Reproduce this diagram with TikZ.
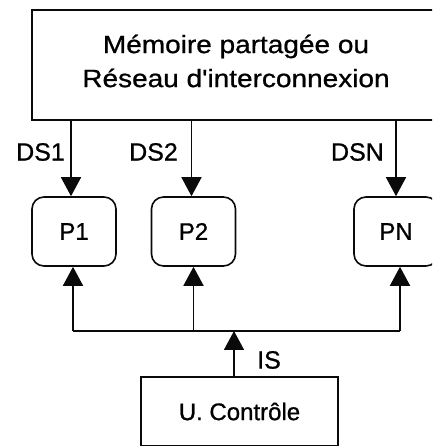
\documentclass[tikz,border=0pt]{standalone}
\usepackage{fontspec}
\setmainfont[FakeBold=0.8]{Liberation Sans}
\newfontfamily\widefont[FakeStretch=1.12,FakeBold=0.8]{Liberation Sans}
\usetikzlibrary{arrows.meta}
\definecolor{ink}{rgb}{0.04,0.04,0.04}

\begin{document}
\begin{tikzpicture}[x=1pt,y=1pt,
  box/.style={draw=ink, line width=1.6pt, inner sep=0pt},
  proc/.style={draw=ink, line width=1.6pt, rounded corners=12pt,
    minimum width=84pt, minimum height=69pt, inner sep=0pt,
    font=\fontsize{24}{28}\selectfont},
  link/.style={draw=ink, line width=1.6pt},
  arr/.style={draw=ink, fill=ink, line width=1.6pt, -{Triangle[length=19pt,width=20pt]}},
  lbl/.style={font=\fontsize{25}{30}\selectfont, inner sep=0pt}]
\useasboundingbox (0,0) rectangle (432,446);
\fill[white] (0,0) rectangle (432,446);
\clip (0,0) rectangle (432,446);

% shared memory / interconnection network
\node[box, minimum width=410pt, minimum height=110pt] (mem) at (237,381) {};
\node[lbl, font=\widefont\fontsize{25}{34}\selectfont, align=center]
  (memtxt) at (236,385) {Mémoire partagée ou\\Réseau d'interconnexion};

% processing elements
\node[proc] (p1) at (74,214.5) {P1};
\node[proc] (p2) at (193.5,214.5) {P2};
\node[proc] (pn) at (396,214.5) {PN};

% control unit
\node[box, minimum width=197pt, minimum height=69pt,
  font=\fontsize{24}{28}\selectfont] (uc) at (239.5,34.5) {U. Contrôle};

% data streams
\draw[arr] ([xshift=-3pt]p1.north |- mem.south) -- ([xshift=-3pt]p1.north);
\draw[arr] ([xshift=-2pt]p2.north |- mem.south) -- ([xshift=-2pt]p2.north);
\draw[arr] (pn.north |- mem.south) -- (pn.north);
\node[lbl, anchor=east] (ds1) at (65,294) {DS1};
\node[lbl, anchor=east] (ds2) at (178,294) {DS2};
\node[lbl, anchor=east] (dsn) at (384,294) {DSN};

% instruction stream bus
\coordinate (bus) at (234,115);
\draw[link] ([xshift=-1pt]p1.south |- bus) -- ([xshift=4pt]pn.south |- bus);
\draw[arr] ([xshift=-1pt]p1.south |- bus) -- ([xshift=-1pt]p1.south);
\draw[arr] (p2.south |- bus) -- (p2.south);
\draw[arr] ([xshift=4pt]pn.south |- bus) -- ([xshift=4pt]pn.south);
\draw[arr] (bus |- uc.north) -- (bus);
\node[lbl, anchor=west] (is) at (257,86) {IS};
\end{tikzpicture}
\end{document}
